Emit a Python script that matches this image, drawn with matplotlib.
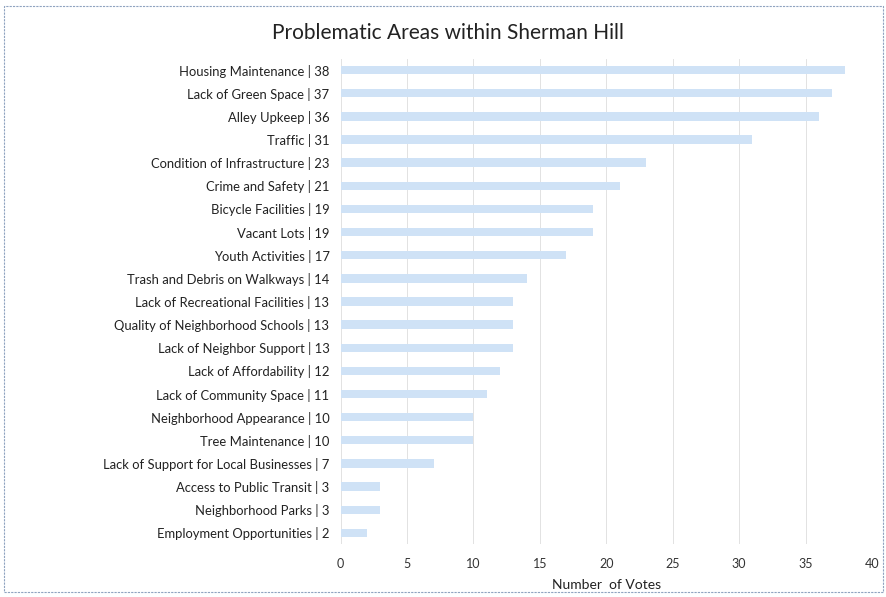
import matplotlib.pyplot as plt
from matplotlib.patches import Rectangle

categories = ['Housing Maintenance', 'Lack of Green Space', 'Alley Upkeep', 'Traffic',
              'Condition of Infrastructure', 'Crime and Safety', 'Bicycle Facilities',
              'Vacant Lots', 'Youth Activities', 'Trash and Debris on Walkways',
              'Lack of Recreational Facilities', 'Quality of Neighborhood Schools',
              'Lack of Neighbor Support', 'Lack of Affordability', 'Lack of Community Space',
              'Neighborhood Appearance', 'Tree Maintenance',
              'Lack of Support for Local Businesses', 'Access to Public Transit',
              'Neighborhood Parks', 'Employment Opportunities']
votes = [38, 37, 36, 31, 23, 21, 19, 19, 17, 14, 13, 13, 13, 12, 11, 10, 10, 7, 3, 3, 2]

labels = [f'{c} | {v}' for c, v in zip(categories, votes)]

plt.rcParams['font.family'] = ['Lato', 'DejaVu Sans']

fig = plt.figure(figsize=(8.87, 5.97), dpi=100)
ax = fig.add_axes([0.384, 0.088, 0.599, 0.814])

ypos = list(range(len(votes)))[::-1]
ax.barh(ypos, votes, height=0.36, color='#cfe2f6', zorder=2)
ax.set_yticks(ypos)
ax.set_yticklabels(labels, fontsize=9.4, color='#222222')
ax.set_ylim(-0.5, len(votes) - 0.5)
ax.set_xlim(0, 40)
ax.set_xticks(range(0, 41, 5))
ax.tick_params(axis='x', labelsize=9, colors='#333333', length=0, pad=10)
ax.tick_params(axis='y', length=0, pad=8)
ax.grid(axis='x', color='#e2e2e2', linewidth=0.7, zorder=0)
for s in ax.spines.values():
    s.set_visible(False)
ax.set_xlabel('Number  of Votes', fontsize=10, color='#222222', labelpad=6)

fig.suptitle('Problematic Areas within Sherman Hill', fontsize=15, color='#222222', x=0.505, y=0.962)

fig.patches.append(Rectangle((0.004, 0.008), 0.992, 0.982, transform=fig.transFigure,
                             fill=False, edgecolor='#8fa3c0', linewidth=0.8, linestyle=(0, (2, 1))))

fig.savefig('out.png', dpi=100)
